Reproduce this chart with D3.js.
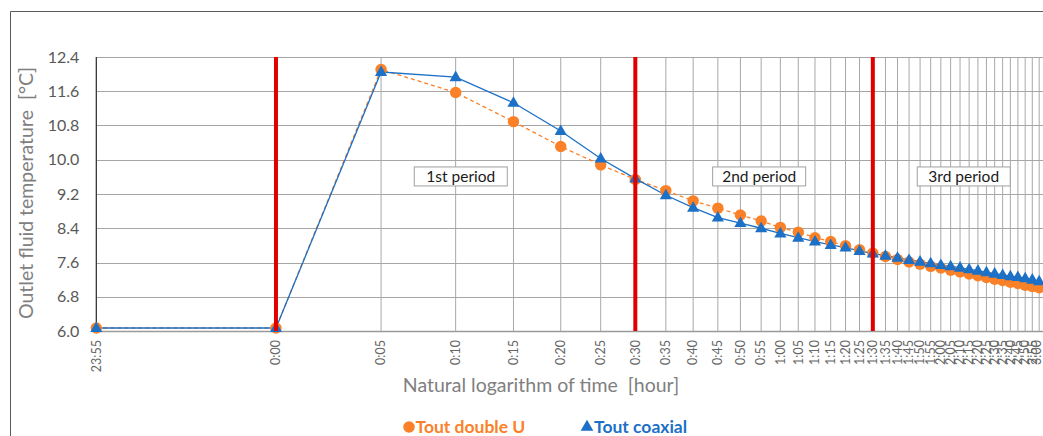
<!DOCTYPE html>
<html>
<head>
<meta charset="utf-8">
<script src="https://cdn.jsdelivr.net/npm/d3@7"></script>
<style>
  html, body { margin: 0; padding: 0; background: #fff; }
  svg { display: block; }
  text { font-family: Lato, "Open Sans", sans-serif; white-space: pre; }
</style>
</head>
<body>
<svg id="chart" width="1043" height="436"></svg>
<script>
// Time stamps (5-minute steps), plotted on a logarithmic position scale
const times = ["23:55","0:00","0:05","0:10","0:15","0:20","0:25","0:30","0:35","0:40",
  "0:45","0:50","0:55","1:00","1:05","1:10","1:15","1:20","1:25","1:30",
  "1:35","1:40","1:45","1:50","1:55","2:00","2:05","2:10","2:15","2:20",
  "2:25","2:30","2:35","2:40","2:45","2:50","2:55","3:00"];

// Outlet fluid temperature [°C], double-U borehole exchanger
const toutDoubleU = [6.07,6.07,12.11,11.57,10.89,10.31,9.88,9.54,9.28,9.04,
  8.87,8.71,8.57,8.42,8.31,8.18,8.09,7.99,7.90,7.82,
  7.74,7.67,7.61,7.56,7.51,7.47,7.42,7.38,7.33,7.29,
  7.25,7.21,7.18,7.14,7.11,7.07,7.04,7.01];

// Outlet fluid temperature [°C], coaxial borehole exchanger
const toutCoaxial = [6.07,6.07,12.05,11.93,11.33,10.67,10.03,9.56,9.17,8.88,
  8.65,8.52,8.40,8.28,8.18,8.09,8.01,7.95,7.87,7.81,
  7.76,7.71,7.66,7.62,7.58,7.54,7.51,7.48,7.44,7.41,
  7.37,7.34,7.31,7.28,7.26,7.23,7.20,7.16];

const yTicks = [6.0, 6.8, 7.6, 8.4, 9.2, 10.0, 10.8, 11.6, 12.4];

// Period boundaries (time stamps) and period labels
const periodMarks = ["0:00", "0:30", "1:30"];
const periodLabels = ["1st period", "2nd period", "3rd period"];
const periodLabelAt = [4.08, 12.9, 28.4];   // label centre on the log position scale
const periodLabelValue = 9.61;

const seriesNames = ["Tout double U", "Tout coaxial"];

const W = 1043, H = 436;
const plot = { left: 96.3, right: 1039.2, top: 57, bottom: 331 };
const colOrange = "#FA8128", colBlue = "#1C70C6", colRed = "#E00000";

const svg = d3.select("#chart");

// index i (0-based) -> log position of (i + 1)
const x = d3.scaleLog().domain([1, times.length]).range([plot.left, plot.right]);
const xi = i => x(i + 1);
const y = d3.scaleLinear().domain([6.0, 12.4]).range([plot.bottom, plot.top]);

// outer chart frame
svg.append("path")
  .attr("d", `M10.5,${H + 2} V11.5 H${W + 2}`)
  .attr("fill", "none").attr("stroke", "#5a5a5a").attr("stroke-width", 1);

// horizontal gridlines
svg.append("g").selectAll("line").data(yTicks).join("line")
  .attr("x1", plot.left).attr("x2", W + 2)
  .attr("y1", d => Math.round(y(d)) + 0.5).attr("y2", d => Math.round(y(d)) + 0.5)
  .attr("stroke", d => d === 6.0 ? "#9a9a9a" : "#a6a6a6").attr("stroke-width", d => d === 6.0 ? 1.5 : 1);

// vertical gridlines, one per time stamp
svg.append("g").selectAll("line").data(times.slice(1)).join("line")
  .attr("x1", (d, i) => xi(i + 1)).attr("x2", (d, i) => xi(i + 1))
  .attr("y1", plot.top).attr("y2", plot.bottom)
  .attr("stroke", "#a8a8a8").attr("stroke-width", 1);

// left axis line
svg.append("line")
  .attr("x1", plot.left).attr("x2", plot.left)
  .attr("y1", plot.top).attr("y2", plot.bottom)
  .attr("stroke", "#262626").attr("stroke-width", 1.2);

// y axis tick labels
const yAxis = d3.axisLeft(y).tickValues(yTicks).tickFormat(d3.format(".1f")).tickSize(0).tickPadding(17);
const gy = svg.append("g").attr("transform", `translate(${plot.left},0)`).call(yAxis);
gy.select(".domain").remove();
gy.selectAll("text").attr("fill", "#595959").style("font-size", "16px").style("font-family", "Lato, sans-serif");

// x axis tick labels, rotated (kept inside the right edge)
const gx = svg.append("g");
gx.selectAll("text").data(times).join("text")
  .attr("transform", (d, i) => `translate(${Math.min(xi(i) + 4.3, W - 2)},${plot.bottom + 9}) rotate(-90)`)
  .attr("text-anchor", "end")
  .attr("fill", "#666")
  .style("font-size", "12.5px")
  .text(d => d);

// axis titles
svg.append("text")
  .attr("transform", `translate(33,${(plot.top + plot.bottom) / 2 - 1}) rotate(-90)`)
  .attr("text-anchor", "middle")
  .attr("fill", "#808080").style("font-size", "19.5px")
  .text("Outlet fluid temperature  [°C]");

svg.append("text")
  .attr("x", 541).attr("y", 392)
  .attr("text-anchor", "middle")
  .attr("fill", "#808080").style("font-size", "19.5px")
  .text("Natural logarithm of time  [hour]");

// series lines
const line = d3.line().x((d, i) => xi(i)).y(d => y(d));
svg.append("path").datum(toutDoubleU).attr("d", line)
  .attr("fill", "none").attr("stroke", colOrange).attr("stroke-width", 1.3)
  .attr("stroke-dasharray", "4,3");
svg.append("path").datum(toutCoaxial).attr("d", line)
  .attr("fill", "none").attr("stroke", colBlue).attr("stroke-width", 1.3);

// markers
svg.append("g").selectAll("circle").data(toutDoubleU).join("circle")
  .attr("cx", (d, i) => xi(i)).attr("cy", d => y(d)).attr("r", 5.7)
  .attr("fill", colOrange);
const tri = d3.symbol().type(d3.symbolTriangle).size(64);
svg.append("g").selectAll("path").data(toutCoaxial).join("path")
  .attr("transform", (d, i) => `translate(${xi(i)},${y(d) + 0.5})`)
  .attr("d", tri).attr("fill", colBlue);

// period boundaries
svg.append("g").selectAll("line").data(periodMarks).join("line")
  .attr("x1", d => xi(times.indexOf(d))).attr("x2", d => xi(times.indexOf(d)))
  .attr("y1", plot.top).attr("y2", plot.bottom)
  .attr("stroke", colRed).attr("stroke-width", 4);

// period labels
const pl = svg.append("g").selectAll("g").data(periodLabels).join("g")
  .attr("transform", (d, i) => `translate(${x(periodLabelAt[i])},${y(periodLabelValue)})`);
pl.append("rect").attr("x", -46.5).attr("y", -9.5).attr("width", 93).attr("height", 19)
  .attr("fill", "#fff").attr("stroke", "#a0a0a0").attr("stroke-width", 1);
pl.append("text").attr("text-anchor", "middle").attr("dy", "0.36em")
  .attr("fill", "#1a1a1a").style("font-size", "15.5px")
  .text(d => d);

// legend: marker shapes followed by series names
const lg = svg.append("g");
lg.append("circle").attr("cx", 409).attr("cy", 427).attr("r", 5.8).attr("fill", colOrange);
lg.append("text").attr("x", 415.5).attr("y", 433).attr("fill", colOrange)
  .style("font-size", "17.5px").style("font-weight", "bold").text(seriesNames[0]);
lg.append("path").attr("transform", "translate(587,427)")
  .attr("d", d3.symbol().type(d3.symbolTriangle).size(70)).attr("fill", colBlue);
lg.append("text").attr("x", 594).attr("y", 433).attr("fill", colBlue)
  .style("font-size", "17.5px").style("font-weight", "bold").text(seriesNames[1]);
</script>
</body>
</html>
